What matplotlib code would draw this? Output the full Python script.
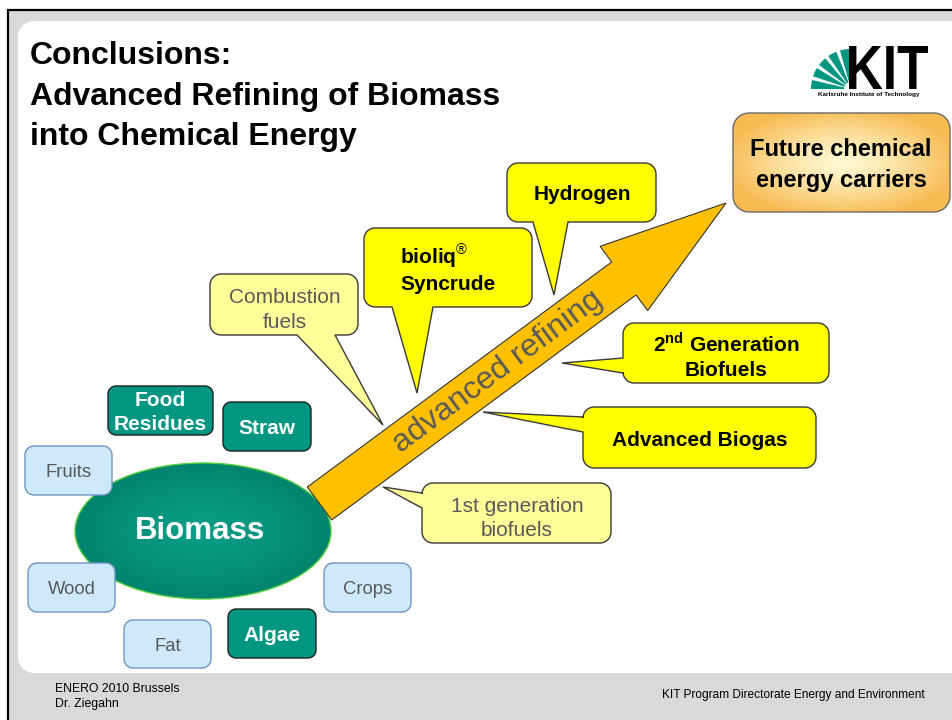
"""
Slide recreation: KIT conclusions diagram, biomass refined into
chemical energy carriers. Drawn on a pixel grid (953 x 720, y down).
"""

import numpy as np
import matplotlib.pyplot as plt
import matplotlib.colors as mcolors
from matplotlib.patches import Polygon, Ellipse, Rectangle, Wedge, PathPatch
from matplotlib.textpath import TextPath
from matplotlib.font_manager import FontProperties
from matplotlib.transforms import Affine2D

plt.rcParams['font.family'] = ['Liberation Sans', 'DejaVu Sans']
plt.rcParams['mathtext.fontset'] = 'custom'
plt.rcParams['mathtext.rm'] = 'Liberation Sans'
plt.rcParams['mathtext.bf'] = 'Liberation Sans:bold'

# ---- text content -------------------------------------------------------
TITLE_LINES = ["Conclusions:", "Advanced Refining of Biomass", "into Chemical Energy"]
CENTER_LABEL = "Biomass"
ARROW_LABEL = "advanced refining"
GOAL_LINES = ["Future chemical", "energy carriers"]
RAW_LABELS = ["Fruits", "Wood", "Fat", "Crops"]
RESIDUE_LABELS = [["Food", "Residues"], ["Straw"], ["Algae"]]
PALE_LABELS = [["Combustion", "fuels"], ["1st generation", "biofuels"]]
BRIGHT_LABELS = [["bioliq$^{®}$", "Syncrude"], ["Hydrogen"],
                 [r"2$^{\mathbf{nd}}$ Generation", "Biofuels"], ["Advanced Biogas"]]
FOOTER_LEFT = ["ENERO 2010 Brussels", "Dr. Ziegahn"]
FOOTER_RIGHT = "KIT Program Directorate Energy and Environment"
LOGO_TEXT = "KIT"
LOGO_SUB = "Karlsruhe Institute of Technology"

# ---- layout (pixels) ----------------------------------------------------
RAW_BOXES = [(25, 446, 112, 495), (28, 563, 115, 612), (124, 620, 211, 668), (324, 563, 411, 612)]
RESIDUE_BOXES = [(108, 386, 213, 435), (223, 402, 311, 451), (228, 609, 316, 658)]
# box, tail side, tail base a/b, tail tip, text x, text center y, line step, align
PALE_LAYOUT = [
    ((210, 274, 358, 335), 'bottom', 297, 335, (383, 425), 285, 308, 25, 'center'),
    ((422, 483, 611, 543), 'left', 493, 508, (383, 487), 517, 517, 24, 'center'),
]
BRIGHT_LAYOUT = [
    ((364, 228, 532, 307), 'bottom', 392, 433, (417, 393), 400, 269, 26, 'left'),
    ((507, 163, 656, 222), 'bottom', 533, 568, (554, 295), 582, 193, 0, 'center'),
    ((623, 323, 829, 383), 'left', 358, 373, (562, 363), 726, 356, 25, 'center'),
    ((583, 407, 816, 468), 'left', 417, 432, (483, 412), 700, 439, 0, 'center'),
]

PX = 100 / 72.0


def box_points(x0, y0, x1, y1, r, side=None, a=0, b=0, tip=None):
    def arc(cx, cy, t0, t1):
        t = np.radians(np.linspace(t0, t1, 10))
        return list(zip(cx + r * np.cos(t), cy + r * np.sin(t)))
    pts = arc(x0 + r, y0 + r, 180, 270)
    if side == 'top':
        pts += [(a, y0), tip, (b, y0)]
    pts += arc(x1 - r, y0 + r, 270, 360)
    if side == 'right':
        pts += [(x1, a), tip, (x1, b)]
    pts += arc(x1 - r, y1 - r, 0, 90)
    if side == 'bottom':
        pts += [(b, y1), tip, (a, y1)]
    pts += arc(x0 + r, y1 - r, 90, 180)
    if side == 'left':
        pts += [(x0, b), tip, (x0, a)]
    return pts


def put_lines(ax, x, yc, lines, step, fs, ha='center', **kw):
    n = len(lines)
    for i, s in enumerate(lines):
        yy = yc + (i - (n - 1) / 2) * step + 0.36 * fs * PX
        ax.text(x, yy, s, ha=ha, va='baseline', fontsize=fs, zorder=8, **kw)


def radial_fill(ax, patch, ext, inner, outer, zorder, power=1.0):
    x0, x1, y0, y1 = ext
    xx, yy = np.meshgrid(np.linspace(-1, 1, 240), np.linspace(-1, 1, 160))
    d = np.clip(np.sqrt(xx ** 2 + yy ** 2) / 1.1, 0, 1) ** power
    c0 = np.array(mcolors.to_rgb(inner))
    c1 = np.array(mcolors.to_rgb(outer))
    img = c0 + (c1 - c0) * d[..., None]
    im = ax.imshow(img, extent=(x0, x1, y1, y0), aspect='auto',
                   interpolation='bilinear', zorder=zorder)
    im.set_clip_path(patch)


def main():
    fig = plt.figure(figsize=(9.53, 7.2), dpi=100)
    fig.patch.set_facecolor('white')
    ax = fig.add_axes([0, 0, 1, 1])
    ax.set_axis_off()

    # slide frame, grey band and white panel
    ax.add_patch(Rectangle((8.5, 10), 980, 760, facecolor='#d9d9d9',
                           edgecolor='black', linewidth=1.6, zorder=0))
    ax.add_patch(Polygon(box_points(18, 21, 990, 673, 16), closed=True,
                         facecolor='white', edgecolor='none', zorder=1))

    # title
    for s, yb in zip(TITLE_LINES, [64, 105, 145]):
        ax.text(30, yb, s, fontsize=23, fontweight='bold', ha='left',
                va='baseline', color='black', zorder=8)

    # KIT logo: green rays + condensed letters
    for k in range(5):
        t1 = 180 + k * 18.5
        ax.add_patch(Wedge((851, 89), 40, t1, t1 + 13, width=33,
                           facecolor='#009682', edgecolor='none', zorder=3))
    tp = TextPath((0, 0), LOGO_TEXT, size=1,
                  prop=FontProperties(family='Liberation Sans', weight='bold'))
    ext = tp.get_extents()
    sx = 79 / ext.width
    sy = 43 / ext.height
    tr = Affine2D().translate(-ext.x0, -ext.y0).scale(sx, -sy).translate(849, 89)
    ax.add_patch(PathPatch(tr.transform_path(tp), facecolor='black',
                           edgecolor='none', zorder=3))
    ax.text(869, 94.5, LOGO_SUB, fontsize=4.6, fontweight='bold', ha='center',
            va='center', color='black', zorder=3)

    # goal box with soft orange gradient
    goal = Polygon(box_points(733, 113, 950, 212, 16), closed=True,
                   facecolor='none', edgecolor='#6b6b6b', linewidth=1.0, zorder=5)
    ax.add_patch(goal)
    radial_fill(ax, goal, (733, 950, 113, 212), '#fff8d2', '#f7bb52', 4, power=1.3)
    put_lines(ax, 841, 163, GOAL_LINES, 30, 17, fontweight='bold', color='black')

    # biomass ellipse
    ell = Ellipse((203, 531), 256, 136, facecolor='none', edgecolor='#55d040',
                  linewidth=1.0, zorder=3)
    ax.add_patch(ell)
    radial_fill(ax, ell, (75, 331, 463, 599), '#0a9c86', '#00806a', 2, power=1.5)
    put_lines(ax, 200, 528, [CENTER_LABEL], 0, 22.5, fontweight='bold', color='white')

    # big refining arrow
    base = np.array([319.5, 503.5])
    tip = np.array([726.0, 203.0])
    u = (tip - base) / np.linalg.norm(tip - base)
    nrm = np.array([-u[1], u[0]])
    neck = tip - 127 * u
    sh, hh = 20.5, 40
    arrow = [base + nrm * sh, neck + nrm * sh, neck + nrm * hh, tip,
             neck - nrm * hh, neck - nrm * sh, base - nrm * sh]
    ax.add_patch(Polygon(arrow, closed=True, facecolor='#ffc000',
                         edgecolor='#333333', linewidth=0.8, zorder=4))
    mid = base + 221.6 * u
    ang = np.degrees(np.arctan2(base[1] - tip[1], tip[0] - base[0]))
    ax.text(mid[0], mid[1], ARROW_LABEL, fontsize=23, color='#595959',
            rotation=ang, rotation_mode='anchor', ha='center', va='center', zorder=8)

    # raw material boxes
    for lab, (x0, y0, x1, y1) in zip(RAW_LABELS, RAW_BOXES):
        ax.add_patch(Polygon(box_points(x0, y0, x1, y1, 9), closed=True,
                             facecolor='#cde9fb', edgecolor='#6e93c6',
                             linewidth=1.0, zorder=5))
        put_lines(ax, (x0 + x1) / 2, (y0 + y1) / 2, [lab], 0, 13.3, color='#595959')

    # residue boxes
    for lines, (x0, y0, x1, y1) in zip(RESIDUE_LABELS, RESIDUE_BOXES):
        ax.add_patch(Polygon(box_points(x0, y0, x1, y1, 8), closed=True,
                             facecolor='#009682', edgecolor='#1f1f1f',
                             linewidth=1.0, zorder=5))
        put_lines(ax, (x0 + x1) / 2, (y0 + y1) / 2, lines, 24, 15,
                  fontweight='bold', color='white')

    # callouts
    for lines, lay in zip(PALE_LABELS, PALE_LAYOUT):
        (x0, y0, x1, y1), side, a, b, tp_, tx, ty, step, al = lay
        ax.add_patch(Polygon(box_points(x0, y0, x1, y1, 11, side, a, b, tp_),
                             closed=True, facecolor='#ffff99', edgecolor='#3a3a3a',
                             linewidth=1.0, joinstyle='miter', zorder=6))
        put_lines(ax, tx, ty, lines, step, 15, ha=al, color='#595959')

    for lines, lay in zip(BRIGHT_LABELS, BRIGHT_LAYOUT):
        (x0, y0, x1, y1), side, a, b, tp_, tx, ty, step, al = lay
        ax.add_patch(Polygon(box_points(x0, y0, x1, y1, 11, side, a, b, tp_),
                             closed=True, facecolor='#ffff00', edgecolor='#3a3a3a',
                             linewidth=1.0, joinstyle='miter', zorder=6))
        put_lines(ax, tx, ty, lines, step, 15, ha=al, fontweight='bold', color='black')

    # footer
    for s, yb in zip(FOOTER_LEFT, [692.5, 706.5]):
        ax.text(55, yb, s, fontsize=8.8, ha='left', va='baseline', color='black', zorder=8)
    ax.text(925, 698, FOOTER_RIGHT, fontsize=8.6, ha='right', va='baseline',
            color='black', zorder=8)

    ax.set_xlim(0, 953)
    ax.set_ylim(720, 0)
    fig.savefig('out.png', dpi=100)
    plt.close(fig)


if __name__ == "__main__":
    main()
